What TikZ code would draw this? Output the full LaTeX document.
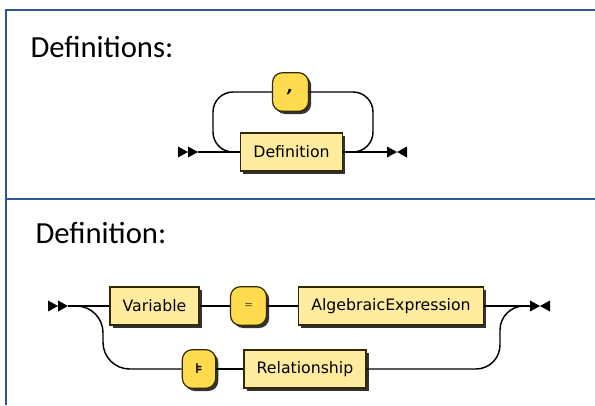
\documentclass[tikz,border=0pt]{standalone}
\usepackage{fontspec}
\setmainfont{Carlito}
\newfontfamily\railfont{DejaVu Sans}
\usetikzlibrary{shadows}

\definecolor{frameblue}{RGB}{47,85,151}
\definecolor{termfill}{RGB}{255,219,77}
\definecolor{ntermfill}{RGB}{255,236,158}
\definecolor{railink}{RGB}{51,41,0}

\tikzset{every picture/.style={line width=0.75pt}}
\tikzset{
  rail/.style={line width=1.1pt},
  boxshadow/.style={drop shadow={shadow xshift=2pt, shadow yshift=-2pt, fill=black!80, opacity=1}},
  ntbox/.style={draw=railink, fill=ntermfill, line width=0.9pt, boxshadow,
    minimum height=28.5pt, inner xsep=9.5pt, font=\railfont\fontsize{11.8}{13}\selectfont},
  tbox/.style={draw=railink, fill=termfill, line width=0.9pt, boxshadow, rounded corners=7.5pt,
    minimum height=29pt, minimum width=27pt, inner sep=0pt, font=\railfont\bfseries\fontsize{12}{13}\selectfont},
  heading/.style={anchor=base west, inner sep=0pt, font=\fontsize{23}{26}\selectfont},
}

\begin{document}
\begin{tikzpicture}[x=0.75pt,y=0.75pt,yscale=-1,xscale=1]
\useasboundingbox (0,0) rectangle (595,405);

%Frame lines
\draw [color=frameblue, line width=1.5pt] (6,405) -- (6,10) -- (595,10) ;
\draw [color=frameblue, line width=1.5pt] (6,198.5) -- (595,198.5) ;

%Headings
\node [heading] (hdefs) at (30,57.5) {Definitions:};
\node [heading] (hdef) at (35,243) {Definition:};

%Definitions: list of Definition separated by commas
\node [ntbox] (def) at (291.5,152) {Definition};
\node [tbox] (comma) at (290.5,92) {\itshape,};
\coordinate (s1) at (198,152);
\coordinate (e1) at (387,152);
\coordinate (loopL) at (213,152);
\coordinate (loopR) at (373,152);

\draw [rail] (s1) -- (def) ;
\draw [rail] (def) -- (e1) ;
\draw [rail, rounded corners=15pt] (def.west) -- (loopL) |- (comma) ;
\draw [rail, rounded corners=15pt] (comma) -| (loopR) -- (def.east) ;

%start and end marks
\fill (s1) -- ++(-10,-5.5) -- ++(0,11) -- cycle ;
\fill (s1) ++(-10,0) -- ++(-10,-5.5) -- ++(0,11) -- cycle ;
\fill (e1) ++(0,-5.5) -- ++(10,5.5) -- ++(-10,5.5) -- cycle ;
\fill (e1) ++(20,-5.5) -- ++(-10,5.5) -- ++(10,5.5) -- cycle ;

%Definition: either an assignment or a relationship
\node [ntbox] (var) at (154.5,306) {Variable};
\node [tbox, font=\railfont\fontsize{8}{9}\selectfont, text=railink!85] (eq) at (248.5,306) {=};
\node [tbox, minimum width=25pt, font=\railfont\bfseries\fontsize{10.5}{12}\selectfont] (models) at (199,369) {⊧};
\node [ntbox] (alg) at (391,306) {AlgebraicExpression};
\node [ntbox] (rel) at (305,369) {Relationship};
\coordinate (s2) at (68,306);
\coordinate (e2) at (530,306);
\coordinate (branchL) at (103,369);
\coordinate (branchR) at (500,306);

\draw [rail] (s2) -- (var) ;
\draw [rail] (var) -- (eq) ;
\draw [rail] (eq) -- (alg) ;
\draw [rail] (alg) -- (e2) ;
\draw [rail, rounded corners=20pt] (s2) -| (branchL) -- (models) ;
\draw [rail] (models) -- (rel) ;
\draw [rail, rounded corners=18pt] (rel) -| (branchR) -- (e2) ;

%start and end marks
\fill (s2) -- ++(-10,-5.5) -- ++(0,11) -- cycle ;
\fill (s2) ++(-10,0) -- ++(-10,-5.5) -- ++(0,11) -- cycle ;
\fill (e2) ++(0,-5.5) -- ++(10,5.5) -- ++(-10,5.5) -- cycle ;
\fill (e2) ++(20,-5.5) -- ++(-10,5.5) -- ++(10,5.5) -- cycle ;

\end{tikzpicture}
\end{document}
